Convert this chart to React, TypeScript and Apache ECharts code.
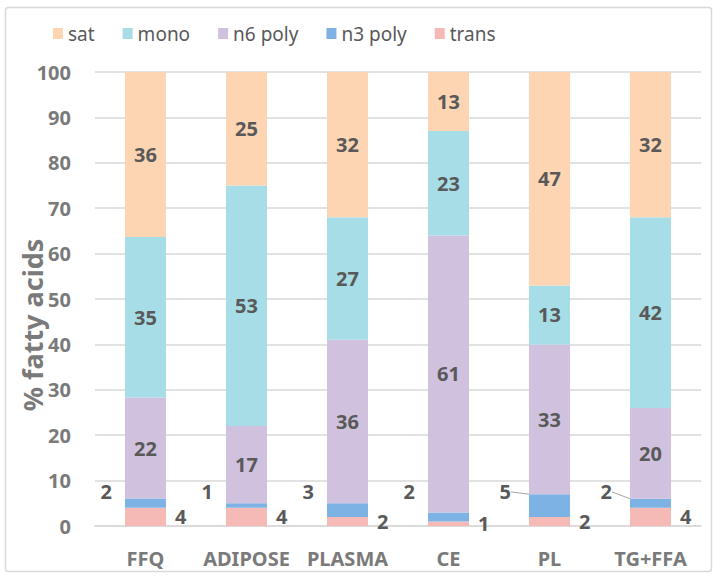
import React, { useEffect, useRef } from "react";
import * as echarts from "echarts";

const categories = ["FFQ", "ADIPOSE", "PLASMA", "CE", "PL", "TG+FFA"];
const sat = [36, 25, 32, 13, 47, 32];
const mono = [35, 53, 27, 23, 13, 42];
const n6poly = [22, 17, 36, 61, 33, 20];
const n3poly = [2, 1, 3, 2, 5, 2];
const trans = [4, 4, 2, 1, 2, 4];
const legendNames = ["sat", "mono", "n6 poly", "n3 poly", "trans"];
const yMin = 0;
const yMax = 100;
const yInterval = 10;

const COLORS: Record<string, string> = {
  sat: "#FDD5B3",
  mono: "#A6DDE7",
  "n6 poly": "#D0C2DE",
  "n3 poly": "#7DB2E5",
  trans: "#F5B9B6",
};

const FONT = "'Noto Sans', 'DejaVu Sans', sans-serif";
const DATA_LABEL_COLOR = "#595959";
const AXIS_COLOR = "#7A7A7A";
const GRID_COLOR = "#D9D9D9";

export default function App() {
  const ref = useRef<HTMLDivElement>(null);

  useEffect(() => {
    if (!ref.current) return;
    const chart = echarts.init(ref.current, null, { renderer: "svg" });

    const totals = categories.map(
      (_, i) => sat[i] + mono[i] + n6poly[i] + n3poly[i] + trans[i]
    );
    const norm = (arr: number[]) => arr.map((v, i) => (v / totals[i]) * 100);
    const transN = norm(trans);
    const n3N = norm(n3poly);

    const labelFont = {
      fontFamily: FONT,
      fontSize: 20,
      fontWeight: "bold" as const,
      color: DATA_LABEL_COLOR,
    };

    const leaderIdx = [4, 5];

    const makeSeries = (name: string, raw: number[], label: any, extra: any = {}) => ({
      name,
      type: "bar",
      stack: "total",
      barWidth: 41,
      itemStyle: { color: COLORS[name] },
      emphasis: { disabled: true },
      label: {
        ...labelFont,
        ...label,
        formatter: (p: any) => String(raw[p.dataIndex]),
      },
      data: norm(raw).map((v, i) =>
        extra.leader && leaderIdx.includes(i)
          ? { value: v, labelLine: { show: true } }
          : { value: v }
      ),
      ...(extra.opts || {}),
    });

    const series = [
      makeSeries("trans", trans, { show: true, position: "right", distance: 9 }),
      makeSeries(
        "n3 poly",
        n3poly,
        { show: true, position: "left", distance: 13 },
        {
          leader: true,
          opts: {
            labelLine: {
              show: false,
              lineStyle: { color: "#A6A6A6", width: 1 },
            },
            labelLayout: (params: any) => {
              const i = params.dataIndex;
              const pxPerUnit = params.rect.height / n3N[i];
              const center = transN[i] + n3N[i] / 2;
              const target = 7.5;
              return {
                dy: -(target - center) * pxPerUnit,
                dx: leaderIdx.includes(i) ? -5 : 0,
              };
            },
          },
        }
      ),
      makeSeries("n6 poly", n6poly, { show: true, position: "inside" }),
      makeSeries("mono", mono, { show: true, position: "inside" }),
      makeSeries("sat", sat, { show: true, position: "inside" }),
    ];

    chart.setOption({
      animation: false,
      backgroundColor: "#FFFFFF",
      textStyle: { fontFamily: FONT },
      legend: {
        data: legendNames,
        left: 53,
        top: 24,
        padding: 0,
        itemWidth: 10,
        itemHeight: 11,
        itemGap: 28,
        icon: "rect",
        selectedMode: false,
        textStyle: {
          fontFamily: FONT,
          fontSize: 19,
          color: "#595959",
        },
      },
      grid: {
        left: 95,
        right: 17,
        top: 72,
        bottom: 54,
        containLabel: false,
        outerBoundsMode: "none",
      },
      xAxis: {
        type: "category",
        data: categories,
        axisLine: { show: true, lineStyle: { color: GRID_COLOR, width: 1.5 } },
        axisTick: { show: false },
        axisLabel: {
          interval: 0,
          hideOverlap: false,
          margin: 22,
          fontFamily: FONT,
          fontSize: 20,
          fontWeight: "bold",
          color: AXIS_COLOR,
        },
      },
      yAxis: {
        type: "value",
        min: yMin,
        max: yMax,
        interval: yInterval,
        axisLine: { show: false },
        axisTick: { show: false },
        splitLine: { lineStyle: { color: GRID_COLOR, width: 1.5 } },
        axisLabel: {
          margin: 24,
          fontFamily: FONT,
          fontSize: 20,
          fontWeight: "bold",
          color: AXIS_COLOR,
        },
      },
      graphic: [
        {
          type: "rect",
          shape: { x: 5.5, y: 7.5, width: 706, height: 564, r: 3 },
          style: { fill: "none", stroke: "#D9D9D9", lineWidth: 1.5 },
          silent: true,
        },
        {
          type: "text",
          x: 32,
          y: 325,
          rotation: Math.PI / 2,
          style: {
            text: "% fatty acids",
            fontFamily: FONT,
            fontSize: 27,
            fontWeight: "bold",
            fill: AXIS_COLOR,
            align: "center",
            verticalAlign: "middle",
          },
          silent: true,
        },
      ],
      series,
    });

    return () => chart.dispose();
  }, []);

  return (
    <div
      ref={ref}
      style={{ position: "fixed", left: 0, top: 0, width: 718, height: 580 }}
    />
  );
}
